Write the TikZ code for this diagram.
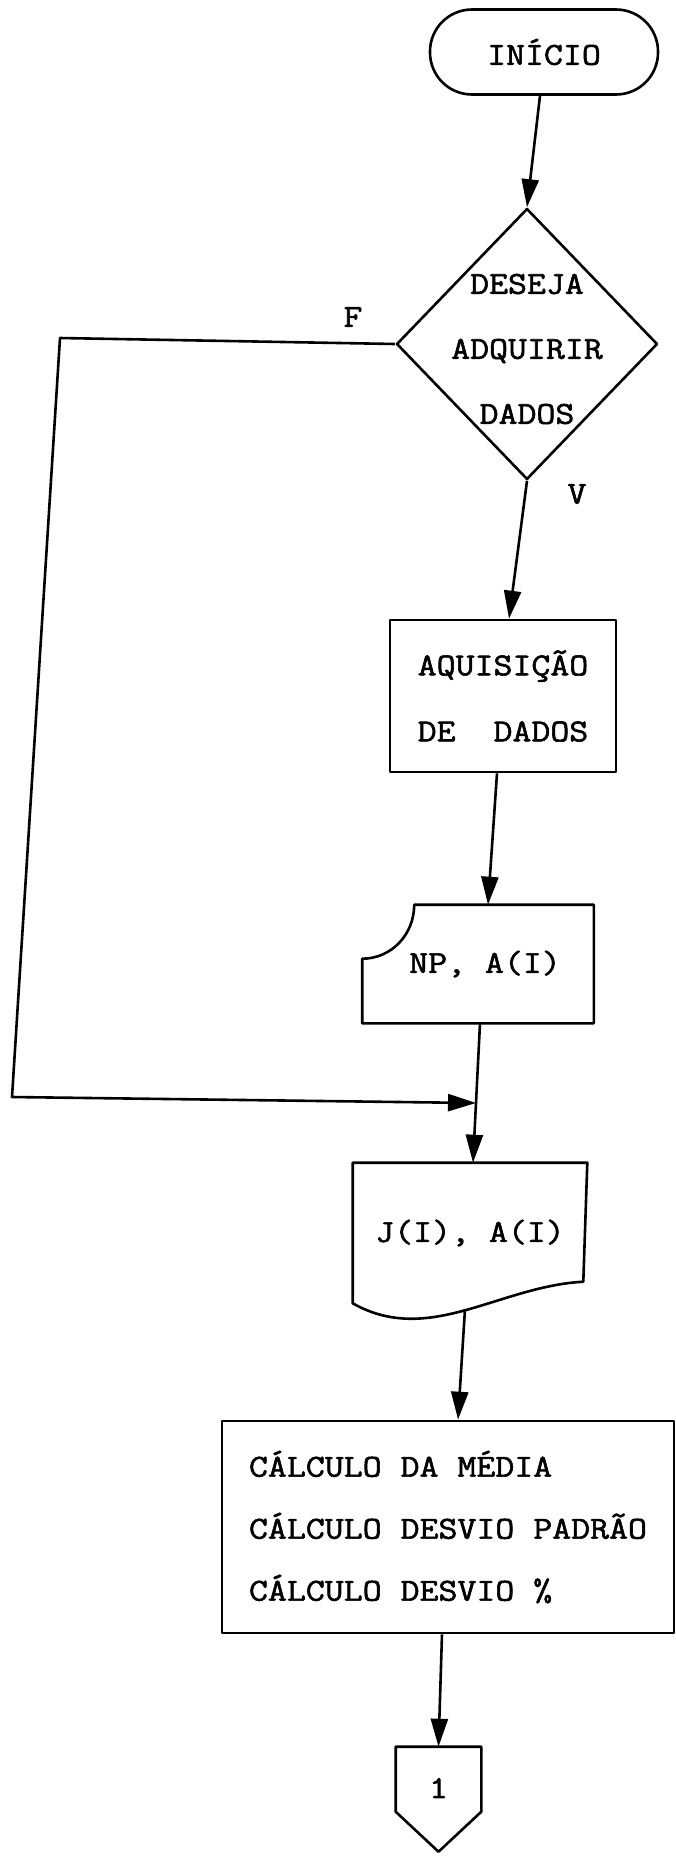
\documentclass[tikz,border=0pt]{standalone}
\usepackage{fontspec}
\setmainfont{Latin Modern Mono}[FakeBold=1.8,FakeStretch=1.15]
\usetikzlibrary{arrows.meta,shapes.geometric,calc}
\begin{document}
\begin{tikzpicture}[x=1pt,y=-1pt,
  line width=2.6pt, line join=round,
  every node/.style={font=\fontsize{32}{40}\selectfont, inner sep=0pt},
  arr/.style={-{Triangle[length=28pt,width=17pt]}},
  lbl/.style={font=\fontsize{32}{40}\selectfont}
]
\useasboundingbox (0,0) rectangle (676,1856);

% start terminal
\node[draw, rectangle, rounded corners=42pt, minimum width=228pt, minimum height=85pt] (ini) at (544,52) {INÍCIO};

% decision
\node[draw, diamond, minimum width=261pt, minimum height=271pt] (dec) at (527,344) {};
\node[align=center, font=\fontsize{32}{65}\selectfont] (dectxt) at (527,349) {DESEJA\\ADQUIRIR\\DADOS};
\node[lbl] (F) at (353,317) {F};
\node[lbl] (V) at (577,494) {V};

% process: acquisition
\node[draw, minimum width=226pt, minimum height=152pt, align=center, font=\fontsize{32}{66}\selectfont] (aq) at (503,696) {AQUISIÇÃO\\DE\ \ DADOS};

% card input
\node[minimum width=229pt, minimum height=116pt] (np) at (478,964) {\hspace*{14pt}NP, A(I)};
\draw ($(np.north west)+(52,0)$) -- (np.north east) -- (np.south east) -- (np.south west)
  -- ($(np.north west)+(0,54)$)
  .. controls ($(np.north west)+(29,54)$) and ($(np.north west)+(52,30)$) .. ($(np.north west)+(52,0)$) -- cycle;

% document output
\node[minimum width=232pt, minimum height=138pt] (jb) at (470,1233) {J(I), A(I)};
\draw (jb.north west) -- (jb.north east) -- ($(jb.north east)+(-4,119)$)
  .. controls ($(jb.south west)+(146,-17)$) and ($(jb.south west)+(76,43)$) .. (jb.south west) -- cycle;
\coordinate (jbot) at (465,1309);

% calculation process
\node[draw, minimum width=452pt, minimum height=212pt, align=left, font=\fontsize{32}{62}\selectfont] (calc) at (448,1527) {CÁLCULO DA MÉDIA\\CÁLCULO DESVIO PADRÃO\\CÁLCULO DESVIO \%};

% off-page connector
\node[minimum width=83pt, minimum height=80pt] (con) at (438.5,1788) {1};
\draw (con.north west) -- (con.north east) -- ($(con.north east)+(0,65)$) -- ($(con.north)+(0,105)$) -- ($(con.north west)+(0,65)$) -- cycle;

% connectors
\coordinate (c1) at (60,338);
\coordinate (c2) at (12,1097);
\coordinate (join) at (476,1103);

\draw[arr] ($(ini.south)+(-4,0)$) -- (dec.north);
\draw[arr] (dec.south) -- ($(aq.north)+(6,0)$);
\draw[arr] ($(aq.south)+(-6,0)$) -- ($(np.north)+(10,0)$);
\draw[arr] ($(np.south)+(2,0)$) -- ($(jb.north)+(3,0)$);
\draw[arr] (dec.west) -- (c1) -- (c2) -- (join);
\draw[arr] (jbot) -- ($(calc.north)+(10,0)$);
\draw[arr] ($(calc.south)+(-6,0)$) -- (con.north);
\end{tikzpicture}
\end{document}
